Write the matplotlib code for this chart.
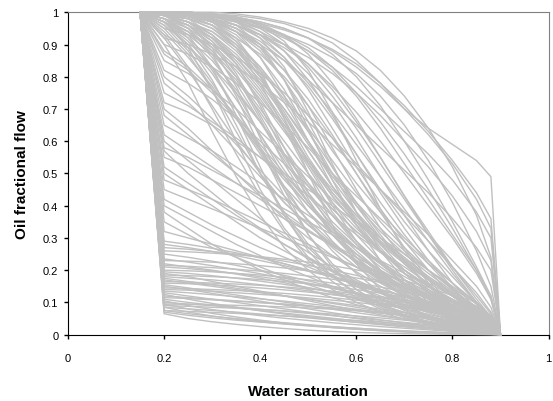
import matplotlib
matplotlib.use("Agg")
from matplotlib import pyplot as plt

plt.rcParams["font.family"] = ["Liberation Sans", "DejaVu Sans"]

# water saturation grid shared by every curve
sw = [0.15, 0.2, 0.25, 0.3, 0.35, 0.4, 0.45, 0.5, 0.55, 0.6, 0.65, 0.7, 0.75, 0.8, 0.85, 0.88, 0.9]

# curves that collapse right after Sw = 0.2
low_curves = [
    [1, .065, .05, .04, .032, .025, .019, .014, .010, .007, .005, .003, .002, .001, .0005, .0002, 0],
    [1, .075, .065, .057, .05, .043, .037, .031, .025, .02, .015, .011, .008, .005, .003, .001, 0],
    [1, .085, .08, .075, .07, .064, .058, .052, .045, .039, .033, .027, .021, .015, .009, .005, 0],
    [1, .095, .08, .066, .055, .045, .036, .029, .022, .017, .012, .008, .005, .003, .001, .0005, 0],
    [1, .10, .095, .09, .085, .079, .073, .066, .059, .052, .045, .038, .031, .024, .016, .009, 0],
    [1, .11, .10, .092, .083, .075, .067, .059, .051, .043, .035, .028, .021, .015, .009, .005, 0],
    [1, .12, .115, .11, .105, .10, .095, .089, .083, .076, .069, .061, .052, .043, .032, .02, 0],
    [1, .13, .12, .11, .10, .09, .08, .07, .06, .05, .04, .031, .023, .016, .009, .004, 0],
    [1, .14, .138, .135, .13, .125, .12, .114, .107, .1, .092, .083, .073, .061, .045, .03, 0],
    [1, .15, .14, .128, .116, .104, .092, .08, .068, .057, .046, .036, .027, .018, .01, .005, 0],
    [1, .16, .158, .155, .15, .145, .139, .132, .124, .115, .105, .094, .081, .066, .048, .03, 0],
    [1, .17, .16, .15, .14, .13, .12, .11, .10, .09, .079, .068, .056, .044, .03, .018, 0],
    [1, .18, .175, .17, .163, .155, .146, .136, .125, .113, .1, .086, .071, .055, .037, .02, 0],
    [1, .19, .18, .165, .15, .135, .12, .105, .09, .076, .062, .049, .037, .026, .015, .008, 0],
    [1, .20, .198, .195, .19, .185, .178, .17, .16, .149, .136, .121, .104, .085, .062, .04, 0],
    [1, .21, .205, .198, .19, .18, .169, .157, .144, .13, .115, .099, .082, .064, .044, .026, 0],
    [1, .22, .21, .2, .188, .175, .161, .146, .13, .114, .097, .08, .063, .046, .029, .015, 0],
    [1, .23, .228, .225, .22, .214, .207, .198, .188, .176, .162, .146, .127, .105, .078, .05, 0],
    [1, .25, .24, .228, .215, .2, .184, .167, .149, .13, .111, .092, .073, .054, .035, .019, 0],
    [1, .27, .265, .258, .25, .24, .228, .215, .2, .184, .166, .146, .124, .1, .072, .045, 0],
    [1, .29, .28, .268, .254, .238, .22, .2, .179, .157, .134, .11, .086, .062, .038, .02, 0],
    [1, .085, .07, .058, .048, .04, .033, .027, .022, .017, .013, .01, .007, .005, .003, .001, 0],
    [1, .07, .06, .052, .045, .039, .034, .029, .024, .02, .016, .012, .009, .006, .003, .0015, 0],
    [1, .09, .088, .085, .082, .078, .074, .069, .064, .058, .052, .045, .038, .03, .021, .013, 0],
    [1, .105, .09, .078, .068, .059, .051, .044, .037, .031, .025, .02, .015, .01, .006, .003, 0],
    [1, .115, .112, .108, .104, .099, .094, .088, .082, .075, .067, .059, .05, .04, .028, .017, 0],
    [1, .125, .11, .097, .085, .074, .064, .055, .046, .038, .031, .024, .018, .012, .007, .003, 0],
    [1, .135, .13, .124, .118, .111, .104, .096, .088, .079, .07, .06, .05, .039, .027, .016, 0],
    [1, .145, .143, .14, .137, .133, .128, .122, .115, .107, .098, .088, .076, .062, .045, .028, 0],
    [1, .155, .145, .134, .123, .112, .101, .09, .079, .068, .058, .048, .038, .028, .018, .01, 0],
    [1, .165, .163, .16, .157, .153, .148, .142, .135, .127, .118, .107, .094, .078, .057, .036, 0],
    [1, .175, .165, .155, .144, .133, .121, .109, .097, .085, .073, .061, .049, .037, .024, .013, 0],
    [1, .185, .183, .18, .176, .171, .165, .158, .15, .14, .129, .116, .1, .082, .059, .037, 0],
    [1, .195, .19, .183, .175, .166, .156, .145, .133, .12, .106, .091, .075, .058, .039, .022, 0],
    [1, .215, .212, .208, .203, .197, .19, .182, .172, .161, .148, .133, .115, .094, .068, .042, 0],
    [1, .235, .225, .214, .202, .189, .175, .16, .144, .127, .11, .092, .074, .055, .036, .02, 0],
    [1, .26, .257, .253, .248, .242, .234, .225, .214, .201, .186, .168, .147, .121, .089, .056, 0],
    [1, .28, .27, .258, .245, .23, .214, .197, .179, .16, .14, .119, .097, .074, .049, .028, 0],
    [1, .075, .072, .069, .066, .062, .058, .054, .049, .044, .039, .033, .027, .021, .014, .008, 0],
    [1, .095, .094, .093, .091, .089, .086, .083, .079, .074, .068, .061, .053, .043, .031, .019, 0],
]

# curves that drop part way at Sw = 0.2 and then keep falling
fan_curves = [
    [1, .35, .31, .27, .24, .21, .18, .155, .13, .11, .09, .07, .055, .04, .025, .014, 0],
    [1, .40, .36, .32, .28, .245, .21, .18, .15, .125, .1, .078, .058, .04, .024, .012, 0],
    [1, .45, .42, .39, .36, .33, .3, .27, .24, .21, .18, .15, .12, .09, .06, .035, 0],
    [1, .50, .45, .40, .35, .30, .26, .22, .185, .15, .12, .093, .068, .046, .026, .013, 0],
    [1, .55, .52, .48, .44, .40, .36, .32, .28, .24, .2, .16, .125, .09, .055, .03, 0],
    [1, .60, .54, .48, .42, .36, .305, .255, .21, .17, .135, .103, .075, .05, .028, .014, 0],
    [1, .65, .61, .57, .52, .47, .42, .37, .32, .27, .225, .18, .14, .1, .062, .035, 0],
    [1, .70, .64, .57, .50, .43, .36, .30, .245, .195, .15, .112, .08, .052, .028, .014, 0],
    [1, .75, .71, .66, .61, .55, .49, .43, .37, .31, .255, .2, .15, .105, .065, .035, 0],
    [1, .80, .74, .67, .59, .51, .43, .355, .285, .225, .17, .125, .087, .055, .03, .015, 0],
    [1, .85, .81, .76, .70, .63, .56, .49, .42, .35, .285, .225, .17, .12, .072, .04, 0],
    [1, .88, .83, .76, .68, .59, .50, .41, .33, .26, .195, .14, .095, .06, .032, .016, 0],
    [1, .90, .87, .83, .78, .72, .65, .58, .5, .43, .36, .29, .22, .16, .1, .055, 0],
    [1, .93, .89, .83, .75, .66, .56, .46, .37, .29, .22, .16, .11, .07, .037, .018, 0],
    [1, .95, .93, .90, .86, .81, .75, .68, .61, .53, .45, .37, .29, .21, .13, .07, 0],
    [1, .62, .57, .52, .47, .42, .37, .32, .275, .23, .19, .15, .115, .082, .05, .027, 0],
    [1, .42, .38, .34, .305, .27, .24, .21, .18, .155, .13, .105, .082, .06, .038, .02, 0],
    [1, .78, .72, .65, .57, .49, .41, .34, .28, .225, .175, .13, .093, .06, .034, .017, 0],
    [1, .32, .3, .28, .26, .24, .22, .2, .18, .16, .14, .12, .1, .078, .054, .032, 0],
    [1, .38, .33, .28, .24, .2, .17, .14, .115, .093, .074, .057, .042, .029, .017, .008, 0],
    [1, .48, .45, .42, .385, .35, .315, .28, .245, .21, .177, .145, .115, .085, .055, .03, 0],
    [1, .52, .47, .42, .37, .325, .28, .24, .2, .165, .133, .103, .077, .053, .031, .016, 0],
    [1, .58, .55, .51, .47, .43, .39, .35, .31, .27, .23, .19, .15, .11, .07, .04, 0],
    [1, .68, .62, .56, .5, .44, .38, .325, .275, .228, .185, .146, .11, .078, .047, .025, 0],
    [1, .72, .69, .65, .6, .55, .5, .45, .4, .35, .3, .25, .2, .15, .1, .055, 0],
    [1, .82, .78, .73, .67, .6, .53, .46, .39, .32, .26, .2, .15, .1, .06, .032, 0],
    [1, .87, .82, .75, .67, .58, .49, .4, .32, .25, .19, .14, .1, .065, .035, .018, 0],
    [1, .92, .9, .87, .83, .78, .72, .66, .59, .52, .45, .38, .31, .23, .15, .085, 0],
    [1, .97, .94, .89, .82, .73, .63, .53, .43, .34, .26, .19, .13, .085, .047, .024, 0],
    [1, .57, .5, .44, .38, .33, .28, .235, .195, .16, .128, .1, .075, .053, .033, .017, 0],
]

# s-shaped curves in the middle
mid_curves = [
    [1, .97, .93, .87, .79, .69, .58, .47, .37, .28, .2, .14, .09, .055, .028, .013, 0],
    [1, .98, .96, .92, .86, .78, .68, .57, .46, .36, .27, .19, .13, .08, .04, .02, 0],
    [1, .99, .97, .94, .89, .82, .73, .63, .52, .41, .31, .22, .15, .09, .045, .022, 0],
    [1, .99, .98, .96, .92, .87, .8, .71, .61, .5, .39, .29, .2, .12, .06, .03, 0],
    [1, 1, .99, .98, .96, .93, .88, .81, .72, .61, .49, .37, .26, .16, .08, .04, 0],
    [1, .96, .9, .81, .7, .58, .46, .35, .26, .19, .13, .09, .06, .035, .018, .008, 0],
    [1, .95, .87, .76, .63, .5, .38, .28, .2, .14, .095, .062, .04, .023, .012, .005, 0],
    [1, .93, .83, .7, .56, .43, .32, .23, .165, .115, .08, .053, .034, .02, .01, .005, 0],
    [1, .9, .78, .63, .49, .37, .27, .2, .14, .1, .07, .048, .032, .02, .011, .005, 0],
    [1, .98, .95, .9, .83, .74, .64, .54, .45, .37, .3, .24, .18, .13, .08, .045, 0],
    [1, .99, .97, .93, .87, .79, .7, .6, .5, .41, .33, .26, .2, .145, .095, .06, 0],
    [1, 1, .99, .97, .94, .89, .82, .73, .62, .5, .38, .27, .17, .09, .04, .02, 0],
    [1, 1, .995, .985, .97, .94, .9, .84, .76, .66, .55, .43, .31, .2, .1, .05, 0],
    [1, .97, .92, .85, .76, .66, .56, .47, .39, .32, .26, .21, .16, .12, .08, .045, 0],
    [1, .99, .96, .91, .84, .75, .64, .52, .4, .29, .2, .13, .08, .045, .022, .01, 0],
    [1, .98, .94, .88, .8, .7, .6, .5, .41, .33, .26, .2, .15, .1, .06, .03, 0],
    [1, .94, .86, .77, .67, .57, .48, .4, .33, .27, .22, .17, .13, .09, .055, .03, 0],
    [1, .92, .82, .71, .6, .5, .41, .34, .28, .23, .185, .145, .11, .075, .045, .024, 0],
    [1, .99, .98, .95, .9, .83, .74, .64, .54, .44, .35, .27, .2, .14, .085, .05, 0],
    [1, 1, .99, .975, .95, .91, .85, .77, .67, .56, .45, .35, .26, .18, .1, .055, 0],
    [1, .97, .91, .83, .73, .62, .51, .41, .32, .25, .19, .14, .1, .065, .035, .018, 0],
    [1, .99, .97, .93, .86, .77, .66, .54, .43, .34, .26, .2, .15, .11, .07, .04, 0],
    [1, 1, .99, .97, .92, .82, .67, .5, .34, .22, .14, .09, .055, .032, .016, .008, 0],
    [1, 1, 1, .99, .97, .92, .83, .69, .53, .38, .26, .17, .1, .055, .027, .013, 0],
    [1, 1, 1, .995, .985, .96, .91, .82, .69, .54, .39, .26, .16, .085, .04, .02, 0],
    [1, .99, .96, .89, .77, .61, .45, .31, .21, .14, .09, .058, .036, .021, .011, .005, 0],
    [1, .98, .93, .83, .68, .52, .37, .26, .18, .125, .085, .057, .036, .021, .011, .005, 0],
    [1, 1, .995, .98, .95, .89, .79, .66, .52, .4, .3, .22, .155, .1, .056, .028, 0],
    [1, 1, .99, .96, .9, .8, .67, .53, .41, .31, .23, .17, .12, .08, .045, .024, 0],
    [1, 1, 1, .99, .975, .94, .88, .79, .68, .56, .44, .33, .23, .145, .075, .037, 0],
    [1, .99, .97, .92, .84, .72, .58, .44, .33, .24, .17, .12, .08, .05, .026, .012, 0],
    [1, 1, .99, .975, .94, .88, .79, .68, .57, .47, .38, .3, .23, .16, .095, .05, 0],
    [1, 1, 1, .995, .985, .965, .93, .87, .78, .67, .55, .43, .32, .21, .11, .055, 0],
    [1, .995, .98, .95, .89, .8, .69, .57, .46, .37, .29, .23, .175, .125, .075, .04, 0],
    [1, .98, .94, .86, .75, .62, .49, .38, .29, .22, .165, .12, .085, .055, .03, .015, 0],
    [1, 1, .99, .98, .95, .9, .82, .71, .58, .45, .33, .23, .15, .09, .045, .022, 0],
    [1, .995, .985, .96, .91, .83, .72, .6, .48, .38, .3, .235, .18, .13, .08, .045, 0],
    [1, 1, 1, .99, .97, .93, .86, .76, .64, .52, .41, .31, .22, .14, .075, .04, 0],
    [1, .97, .9, .79, .65, .5, .37, .27, .2, .15, .11, .08, .057, .037, .02, .01, 0],
    [1, 1, .99, .97, .93, .86, .76, .63, .5, .38, .28, .2, .14, .09, .05, .026, 0],
    [1, 1, 1, .995, .98, .95, .9, .83, .74, .64, .53, .42, .31, .21, .12, .065, 0],
    [1, .99, .97, .94, .88, .8, .7, .59, .49, .4, .32, .25, .19, .135, .085, .05, 0],
    [1, 1, .995, .98, .96, .92, .86, .78, .69, .59, .49, .39, .29, .19, .1, .05, 0],
    [1, .99, .95, .88, .78, .66, .54, .43, .34, .27, .21, .16, .12, .08, .045, .024, 0],
    [1, .99, .95, .87, .74, .58, .43, .31, .22, .16, .11, .075, .05, .03, .016, .008, 0],
    [1, .97, .89, .76, .6, .45, .33, .24, .18, .13, .095, .068, .047, .03, .016, .008, 0],
    [1, 1, .98, .93, .84, .71, .56, .42, .31, .23, .17, .12, .085, .055, .03, .015, 0],
    [1, .99, .96, .9, .8, .67, .53, .41, .31, .24, .18, .135, .1, .068, .04, .022, 0],
    [1, 1, .99, .96, .89, .78, .64, .5, .38, .29, .22, .16, .115, .075, .04, .02, 0],
    [1, .98, .92, .82, .7, .57, .45, .35, .27, .21, .16, .12, .09, .06, .035, .018, 0],
    [1, 1, .995, .98, .94, .86, .74, .6, .46, .35, .26, .19, .135, .09, .05, .025, 0],
    [1, .99, .97, .91, .81, .68, .55, .44, .35, .28, .22, .17, .13, .09, .055, .03, 0],
    [1, 1, .99, .97, .91, .81, .68, .55, .44, .35, .28, .22, .17, .12, .07, .04, 0],
    [1, .96, .88, .78, .67, .56, .46, .38, .31, .25, .2, .155, .115, .08, .047, .025, 0],
    [1, .995, .97, .92, .85, .76, .65, .54, .44, .36, .29, .23, .17, .12, .07, .038, 0],
    [1, 1, 1, .99, .96, .9, .79, .64, .48, .34, .23, .15, .095, .055, .028, .014, 0],
]

# curves that stay high to large saturations
late_curves = [
    [1, 1, 1, .995, .99, .98, .965, .94, .905, .85, .78, .70, .64, .59, .54, .49, 0],
    [1, 1, 1, .99, .98, .965, .945, .92, .885, .84, .78, .71, .63, .54, .44, .36, 0],
    [1, 1, .995, .985, .97, .95, .92, .88, .83, .77, .7, .63, .56, .48, .38, .3, 0],
    [1, 1, .99, .98, .96, .93, .89, .84, .77, .69, .6, .5, .4, .3, .19, .11, 0],
    [1, 1, 1, .99, .98, .96, .93, .89, .83, .75, .66, .56, .45, .33, .2, .11, 0],
    [1, 1, .99, .97, .94, .9, .85, .79, .72, .65, .58, .51, .44, .36, .27, .2, 0],
    [1, 1, 1, .995, .985, .97, .95, .92, .87, .8, .71, .6, .48, .35, .21, .12, 0],
    [1, 1, .995, .99, .975, .955, .925, .88, .82, .74, .64, .53, .42, .31, .2, .12, 0],
    [1, 1, 1, 1, .995, .985, .97, .95, .92, .88, .82, .74, .64, .52, .37, .24, 0],
    [1, 1, 1, .995, .985, .97, .95, .92, .88, .83, .77, .7, .62, .53, .42, .33, 0],
    [1, 1, .995, .98, .96, .93, .9, .86, .81, .75, .68, .6, .52, .43, .32, .23, 0],
    [1, 1, 1, .99, .975, .955, .93, .9, .86, .81, .74, .65, .54, .41, .26, .15, 0],
]

fig, ax = plt.subplots(figsize=(5.53, 4.02), dpi=100)
fig.subplots_adjust(left=0.123, right=0.992, bottom=0.165, top=0.967)

for group in [low_curves, fan_curves, mid_curves, late_curves]:
    for fo in group:
        ax.plot(sw, fo, color="#c0c0c0", linewidth=1.0, zorder=3, clip_on=False)

ax.set_xlim(0, 1)
ax.set_ylim(0, 1)
xticks = [0, 0.2, 0.4, 0.6, 0.8, 1]
yticks = [0, 0.1, 0.2, 0.3, 0.4, 0.5, 0.6, 0.7, 0.8, 0.9, 1]
ax.set_xticks(xticks)
ax.set_xticklabels(["0", "0.2", "0.4", "0.6", "0.8", "1"])
ax.set_yticks(yticks)
ax.set_yticklabels(["0", "0.1", "0.2", "0.3", "0.4", "0.5", "0.6", "0.7", "0.8", "0.9", "1"])
ax.tick_params(direction="out", length=3, width=1, labelsize=8, colors="black")
ax.tick_params(axis="x", pad=10)
ax.tick_params(axis="y", pad=4)

for side in ["top", "right"]:
    ax.spines[side].set_color("#808080")
for side in ["left", "bottom"]:
    ax.spines[side].set_color("black")

ax.set_xlabel("Water saturation", fontsize=11, fontweight="bold", labelpad=15)
ax.set_ylabel("Oil fractional flow", fontsize=11, fontweight="bold", labelpad=10)

plt.savefig("out.png", dpi=100)
